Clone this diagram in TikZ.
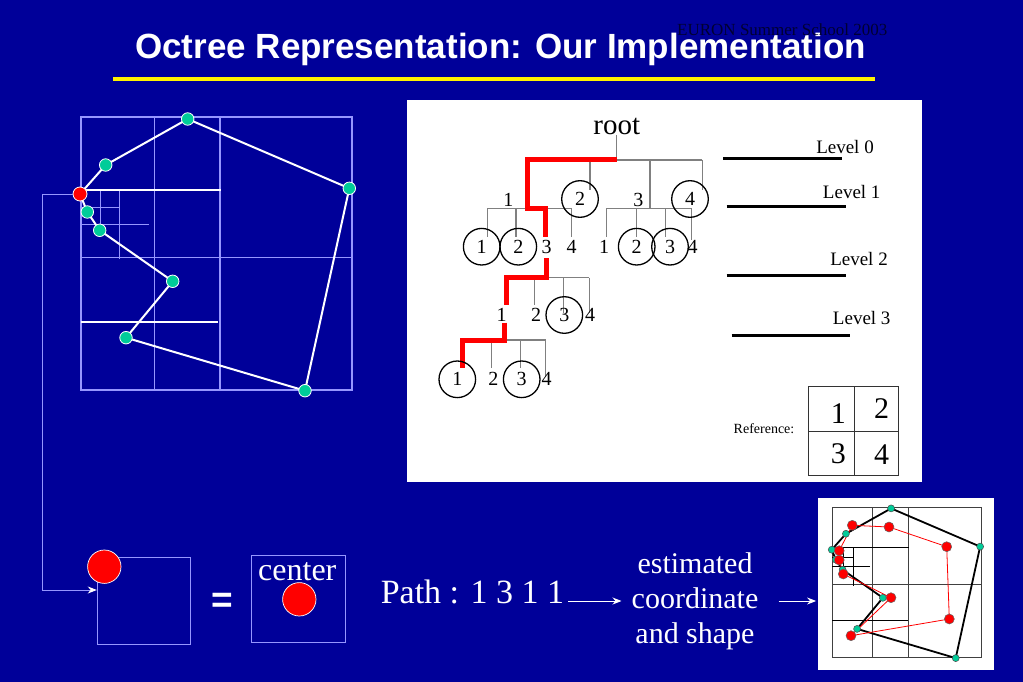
\documentclass[tikz,border=0pt]{standalone}
\usepackage{fontspec}
\setmainfont{Liberation Serif}
\newfontfamily\titlefont{Liberation Sans}
\usetikzlibrary{arrows.meta,calc}
\definecolor{navy}{RGB}{0,0,153}
\definecolor{lav}{RGB}{150,150,255}
\definecolor{teal1}{RGB}{0,204,153}
\definecolor{euron}{RGB}{0,0,50}
\newcommand{\octgrid}[3]{%
 \draw[#1] (81,117) rectangle (352,390);
 \draw[#1] (154.3,117) -- (154.3,390) (220,117) -- (220,390) (81,257.3) -- (352,257.3);
 \draw[#2] (81,224.3) -- (149,224.3) (81,207.7) -- (119,207.7) (100.7,190) -- (100.7,224.3) (119.3,190) -- (119.3,259);
 \draw[#3] (81,190) -- (221,190) (81,322) -- (218,322);
}
\newcommand{\polycoords}[1]{%
 \coordinate (#1p0) at (80,194);
 \coordinate (#1p1) at (105.7,165);
 \coordinate (#1p2) at (187.7,119);
 \coordinate (#1p3) at (349.3,188.3);
 \coordinate (#1p4) at (305,390.7);
 \coordinate (#1p5) at (126,337.7);
 \coordinate (#1p6) at (172.7,281.3);
 \coordinate (#1p7) at (99.7,230.3);
 \coordinate (#1p8) at (87.3,212);
}
\tikzset{
 poly/.style={draw=white, line width=2pt, line join=round},
 gdot/.style={circle, fill=teal1, draw=white, line width=0.8pt, minimum size=12.5pt, inner sep=0pt},
 rdot/.style={circle, fill=red, draw=white, line width=0.8pt, minimum size=14pt, inner sep=0pt},
 sgdot/.style={circle, fill=teal1, draw=black!70, line width=0.5pt, minimum size=7pt, inner sep=0pt},
 srdot/.style={circle, fill=red, draw=black!60, line width=0.5pt, minimum size=10pt, inner sep=0pt},
 bigred/.style={circle, fill=red, draw=white, line width=0.7pt, minimum size=33.4pt, inner sep=0pt},
 lavbox/.style={draw=lav, line width=1pt, inner sep=0pt},
 tline/.style={draw=gray, line width=1.1pt},
 redpath/.style={draw=red, line width=5pt, line join=miter},
 tcirc/.style={circle, draw=black, line width=1.3pt, minimum size=36.6pt, inner sep=0pt, font=\fontsize{20}{20}\selectfont},
 tlab/.style={inner sep=0pt, font=\fontsize{20}{20}\selectfont},
 levbar/.style={draw=black, line width=3pt},
 levlab/.style={inner sep=0pt, font=\fontsize{19}{19}\selectfont},
 refnum/.style={inner sep=0pt, font=\fontsize{30}{30}\selectfont},
 wtext/.style={text=white},
 arr/.style={draw=white, line width=0.9pt, -{Stealth[length=9pt,width=7pt]}},
 conn/.style={draw=lav, line width=1pt, -{Stealth[length=9pt,width=7pt,fill=white,color=white]}},
}
\begin{document}
\begin{tikzpicture}[x=1pt,y=-1pt]
\useasboundingbox (0,0) rectangle (1023,682);
\fill[navy] (0,0) rectangle (1023,682);

% title
\node[wtext, anchor=base, inner sep=0pt, font=\titlefont\bfseries\fontsize{35}{42}\selectfont] (title) at (500.5,59) {Octree Representation: Our Implementation};
\node[anchor=base west, inner sep=0pt, text=euron, font=\fontsize{17}{20}\selectfont] (euron) at (677,36) {EURON Summer School 2003};
\draw[yellow, line width=3.5pt] (113,79) -- (875,79);

% left octree picture
\octgrid{draw=lav, line width=1.3pt}{draw=lav, line width=1.2pt}{draw=white, line width=1.3pt}
\polycoords{L}
\draw[poly] (Lp0) -- (Lp1) -- (Lp2) -- (Lp3) -- (Lp4) -- (Lp5) -- (Lp6) -- (Lp7) -- (Lp8) -- cycle;
\node[rdot] (Lr0) at (Lp0) {};
\foreach \i in {1,...,8} \node[gdot] (Lg\i) at (Lp\i) {};

% bottom-left boxes
\node[lavbox, minimum width=92.7pt, minimum height=86.3pt] (box1) at (143.65,600.85) {};
\node[bigred] (b1) at (104.3,566.7) {};
\coordinate (cA) at (42.3,590);
\draw[conn] (Lr0.west) -| (cA) -- (box1.west |- cA);
\node[wtext, font=\titlefont\bfseries\fontsize{37}{37}\selectfont] (eq) at (222,603) {=};
\node[lavbox, minimum width=93.3pt, minimum height=86.6pt] (box2) at (298.35,599) {};
\node[wtext, font=\fontsize{32}{32}\selectfont] (ctr) at (297.3,571.7) {center};
\node[bigred] (b2) at (299.3,599.3) {};

% path text
\node[wtext, font=\fontsize{34}{34}\selectfont, anchor=base, inner sep=2pt] (path) at (472.4,603) {Path : 1 3 1 1};
\node[wtext, align=center, font=\fontsize{30}{35}\selectfont, inner sep=2pt] (est) at (695,601) {estimated\\coordinate\\and shape};

% right panel
\node[fill=white, minimum width=175.7pt, minimum height=171.7pt, inner sep=0pt] (panel2) at (906.15,584.15) {};
\draw[arr, shorten <=2pt, shorten >=8pt] (path.east |- est) -- (est.west);
\draw[arr, shorten <=18pt, shorten >=2pt] (est.east) -- (est.east -| panel2.west);
\begin{scope}[shift={(787.67,442.83)}, scale=0.551]
 \octgrid{draw=black!75, line width=1.2pt}{draw=black, line width=0.7pt}{draw=black, line width=0.8pt}
 \polycoords{R}
\end{scope}
\draw[draw=black, line width=1.8pt, line join=round] (Rp0) -- (Rp1) -- (Rp2) -- (Rp3) -- (Rp4) -- (Rp5) -- (Rp6) -- (Rp7) -- (Rp8) -- cycle;
\coordinate (q1) at (852.3,525.3);
\coordinate (q2) at (889,527);
\coordinate (q3) at (946.7,546.7);
\coordinate (q4) at (949.3,619);
\coordinate (q5) at (851,635.7);
\coordinate (q6) at (891,597.7);
\coordinate (q7) at (843.3,574);
\coordinate (q8) at (839.2,560);
\coordinate (q9) at (839.2,550.7);
\draw[red, line width=0.8pt] (q1) -- (q2) -- (q3) -- (q4) -- (q5) -- (q6) -- (q7) -- (q8) -- (q9) -- cycle;
\foreach \i in {0,...,8} \node[sgdot] (Rg\i) at (Rp\i) {};
\foreach \i in {1,...,9} \node[srdot] (Rr\i) at (q\i) {};

% tree panel
\node[fill=white, minimum width=514.7pt, minimum height=382pt, inner sep=0pt] (tpanel) at (664.65,291) {};
\node[inner sep=0pt, font=\fontsize{29}{29}\selectfont] (root) at (616.7,126.7) {root};
% gray tree lines
\draw[tline] (root.south) -- (616.7,160);
\draw[tline] (527.7,160) -- (702.3,160);
\draw[tline] (590,160) -- (590,190) (650,160) -- (650,208.3) (702.3,160) -- (702.3,190);
\draw[tline] (487.3,208.3) -- (571.7,208.3);
\draw[tline] (487.3,208.3) -- (487.3,236.7) (516,208.3) -- (516,236.7) (571.7,208.3) -- (571.7,236.7);
\draw[tline] (606.7,208.3) -- (691.7,208.3);
\draw[tline] (606.7,208.3) -- (606.7,236.7) (636.7,208.3) -- (636.7,236.7) (665.7,208.3) -- (665.7,236.7) (691.7,208.3) -- (691.7,240);
\draw[tline] (506,277.7) -- (589.3,277.7);
\draw[tline] (534.3,277.7) -- (534.3,305) (563.3,277.7) -- (563.3,313) (589.3,277.7) -- (589.3,313);
\draw[tline] (462.3,340) -- (545.7,340);
\draw[tline] (491.7,340) -- (491.7,368) (520.7,340) -- (520.7,368) (545.7,340) -- (545.7,376.7);
% red path
\draw[redpath] (616.7,160) -- (527.7,160) -- (527.7,208.3) -- (545.7,208.3) -- (545.7,236.7);
\draw[redpath] (546.7,258.3) -- (546.7,277.7) -- (506,277.7) -- (506,305);
\draw[redpath] (504.3,322.7) -- (504.3,340) -- (462.3,340) -- (462.3,368.3);
% level 1
\node[tlab] (t1) at (508.3,200) {1};
\node[tcirc] (t2) at (580,199) {2};
\node[tlab] (t3) at (638.3,200) {3};
\node[tcirc] (t4) at (690,199) {4};
% level 2
\node[tcirc] (t11) at (481.7,246.7) {1};
\node[tcirc] (t12) at (518.3,246.7) {2};
\node[tlab] (t13) at (546.7,246.7) {3};
\node[tlab] (t14) at (571.7,246.7) {4};
\node[tlab] (t31) at (604,246.7) {1};
\node[tcirc] (t32) at (636.7,246.7) {2};
\node[tcirc] (t33) at (670,246.7) {3};
\node[tlab] (t34) at (692.7,246.7) {4};
% level 3
\node[tlab] (t131) at (501.7,315) {1};
\node[tlab] (t132) at (536,315) {2};
\node[tcirc] (t133) at (564.3,315) {3};
\node[tlab] (t134) at (590,315) {4};
% level 4
\node[tcirc] (t1311) at (457.3,379.3) {1};
\node[tlab] (t1312) at (493.3,379.3) {2};
\node[tcirc] (t1313) at (521.7,379.3) {3};
\node[tlab] (t1314) at (546.7,379.3) {4};
% level bars
\draw[levbar] (723.3,158.3) -- (841.7,158.3);
\draw[levbar] (726.7,206.7) -- (845.7,206.7);
\draw[levbar] (726.7,275.7) -- (845.7,275.7);
\draw[levbar] (731.7,335.7) -- (850,335.7);
\node[levlab] (lv0) at (845,146.7) {Level 0};
\node[levlab] (lv1) at (851.7,191.7) {Level 1};
\node[levlab] (lv2) at (859,259.3) {Level 2};
\node[levlab] (lv3) at (861.7,318.3) {Level 3};
% reference grid
\draw[black!80, line width=1pt] (808.3,386.7) rectangle (898.3,475);
\draw[black!80, line width=1pt] (854.3,386.7) -- (854.3,475) (808.3,431.7) -- (898.3,431.7);
\node[refnum] (r1) at (838.3,413.3) {1};
\node[refnum] (r2) at (881.7,408.3) {2};
\node[refnum] (r3) at (838.3,453.3) {3};
\node[refnum] (r4) at (881.7,455) {4};
\node[inner sep=0pt, font=\fontsize{14}{14}\selectfont] (reflab) at (764,428.3) {Reference:};
\end{tikzpicture}
\end{document}
